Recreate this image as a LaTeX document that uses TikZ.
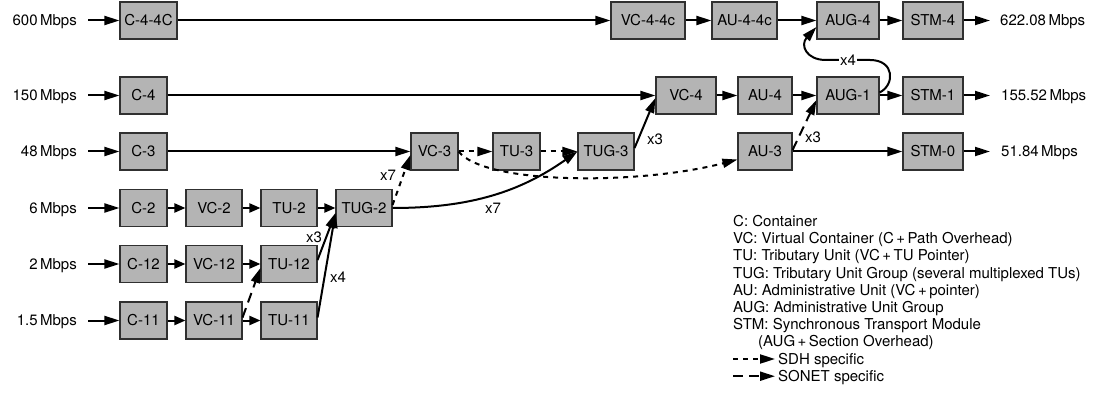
\documentclass[tikz,border=0pt]{standalone}
\usepackage{fontspec}
\setmainfont{TeX Gyre Heros}
\usetikzlibrary{arrows.meta}
\definecolor{boxgray}{HTML}{B4B4B4}
\definecolor{boxline}{HTML}{303030}
\begin{document}
\begin{tikzpicture}[x=1pt,y=1pt,
  every node/.style={font=\fontsize{15}{17.2}\selectfont, inner sep=0pt},
  unit/.style={draw=boxline, fill=boxgray, line width=1.1pt, minimum height=37pt,
               text height=10.8pt, text depth=0pt},
  rate/.style={anchor=base east},
  outrate/.style={anchor=base west},
  mult/.style={},
  legend/.style={anchor=base west},
  arr/.style={line width=2pt, -{Triangle[length=15pt,width=9pt]}},
  sarr/.style={line width=2pt, -{Triangle[length=11pt,width=9pt]}},
  sdh/.style={arr, dash pattern=on 5pt off 5pt},
  sonet/.style={arr, dash pattern=on 10pt off 6pt},
]
\useasboundingbox (0,0) rectangle (1106,-406);

% ---- multiplexing units ----
\node[unit, minimum width=57pt] (c44)  at (148.5,-20.5) {C-4-4C};
\node[unit, minimum width=74pt] (vc44) at (648,-20.5)   {VC-4-4c};
\node[unit, minimum width=65pt] (au44) at (744.5,-20.5) {AU-4-4c};
\node[unit, minimum width=62pt] (aug4) at (848,-20.5)   {AUG-4};
\node[unit, minimum width=60pt] (stm4) at (933,-20.5)   {STM-4};

\node[unit, minimum width=47pt] (c4)   at (143.5,-95.5) {C-4};
\node[unit, minimum width=60pt] (vc4)  at (686,-95.5)   {VC-4};
\node[unit, minimum width=54pt] (au4)  at (765,-95.5)   {AU-4};
\node[unit, minimum width=62pt] (aug1) at (848,-95.5)   {AUG-1};
\node[unit, minimum width=60pt] (stm1) at (933,-95.5)   {STM-1};

\node[unit, minimum width=47pt] (c3)   at (143.5,-151.5) {C-3};
\node[unit, minimum width=47pt] (vc3)  at (434.5,-151.5) {VC-3};
\node[unit, minimum width=47pt] (tu3)  at (516.5,-151.5) {TU-3};
\node[unit, minimum width=56pt] (tug3) at (606,-151.5)   {TUG-3};
\node[unit, minimum width=54pt] (au3)  at (765,-151.5)   {AU-3};
\node[unit, minimum width=60pt] (stm0) at (933,-151.5)   {STM-0};

\node[unit, minimum width=47pt] (c2)   at (143.5,-208) {C-2};
\node[unit, minimum width=56pt] (vc2)  at (214,-208)   {VC-2};
\node[unit, minimum width=56pt] (tu2)  at (289,-208)   {TU-2};
\node[unit, minimum width=56pt] (tug2) at (364,-208)   {TUG-2};

\node[unit, minimum width=47pt] (c12)  at (143.5,-264) {C-12};
\node[unit, minimum width=56pt] (vc12) at (214,-264)   {VC-12};
\node[unit, minimum width=56pt] (tu12) at (289,-264)   {TU-12};

\node[unit, minimum width=47pt] (c11)  at (143.5,-320.5) {C-11};
\node[unit, minimum width=56pt] (vc11) at (214,-320.5)   {VC-11};
\node[unit, minimum width=56pt] (tu11) at (289,-320.5)   {TU-11};

% ---- input rates ----
\node[rate] (i600) at (77,-25.9)  {600\,Mbps};
\node[rate] (i150) at (77,-100.9) {150\,Mbps};
\node[rate] (i48)  at (77,-156.9) {48\,Mbps};
\node[rate] (i6)   at (77,-213.4) {6\,Mbps};
\node[rate] (i2)   at (77,-269.4) {2\,Mbps};
\node[rate] (i15)  at (77,-325.9) {1.5\,Mbps};

\draw[arr] ([xshift=11pt]c44.west -| i600.east) -- (c44.west);
\draw[arr] ([xshift=11pt]c4.west  -| i150.east) -- (c4.west);
\draw[arr] ([xshift=11pt]c3.west  -| i48.east)  -- (c3.west);
\draw[arr] ([xshift=11pt]c2.west  -| i6.east)   -- (c2.west);
\draw[arr] ([xshift=11pt]c12.west -| i2.east)   -- (c12.west);
\draw[arr] ([xshift=11pt]c11.west -| i15.east)  -- (c11.west);

% ---- output rates ----
\node[outrate] (o622) at (1000,-25.9)  {622.08\,Mbps};
\node[outrate] (o155) at (1001,-100.9) {155.52\,Mbps};
\node[outrate] (o51)  at (1001,-156.9) {51.84\,Mbps};

\draw[arr] (stm4.east) -- ([xshift=-10pt]stm4.east -| o622.west);
\draw[arr] (stm1.east) -- ([xshift=-11pt]stm1.east -| o155.west);
\draw[arr] (stm0.east) -- ([xshift=-11pt]stm0.east -| o51.west);

% ---- straight chains ----
\draw[arr] (c44.east) -- (vc44.west);
\draw[arr] (vc44.east) -- (au44.west);
\draw[arr] (au44.east) -- (aug4.west);
\draw[arr] (aug4.east) -- (stm4.west);

\draw[arr] (c4.east) -- (vc4.west);
\draw[arr] (vc4.east) -- (au4.west);
\draw[arr] (au4.east) -- (aug1.west);
\draw[arr] (aug1.east) -- (stm1.west);

\draw[arr] (c3.east) -- (vc3.west);
\draw[sdh] (vc3.east) -- (tu3.west);
\draw[sdh] (tu3.east) -- (tug3.west);
\draw[arr] (au3.east) -- (stm0.west);

\draw[sarr] (c2.east) -- (vc2.west);
\draw[sarr] (vc2.east) -- (tu2.west);
\draw[sarr] (tu2.east) -- (tug2.west);

\draw[sarr] (c12.east) -- (vc12.west);
\draw[sarr] (vc12.east) -- (tu12.west);

\draw[sarr] (c11.east) -- (vc11.west);
\draw[sarr] (vc11.east) -- (tu11.west);

% ---- multiplexing paths ----
\draw[arr] ([yshift=4pt]tu12.east) -- ([yshift=-5pt]tug2.west);
\node[mult] (m12) at (314,-237) {x3};
\draw[arr] ([yshift=3pt]tu11.east) -- ([yshift=-5pt]tug2.west);
\node[mult] (m11) at (338,-277) {x4};
\draw[sonet] ([yshift=3pt]vc11.east) -- ([yshift=-4pt]tu12.west);

\draw[sdh] ([yshift=3pt]tug2.east) -- ([yshift=-3.5pt]vc3.west);
\node[mult] (m7a) at (388,-175.5) {x7};
\draw[arr] (tug2.east) .. controls (472,-208) and (521,-191) .. (tug3.west);
\node[mult] (m7b) at (493,-208) {x7};

\draw[sdh] (vc3.east) .. controls (485,-185) and (640,-185) .. ([yshift=-8pt]au3.west);

\draw[arr] ([yshift=3.5pt]tug3.east) -- ([yshift=-2.5pt]vc4.west);
\node[mult] (m3a) at (655,-139) {x3};

\draw[sonet] ([yshift=1.5pt]au3.east) -- ([yshift=-4.5pt]aug1.west);
\node[mult] (m3b) at (813,-137) {x3};

\draw[arr] ([yshift=3pt]aug1.east) .. controls (895,-85) and (895,-60) .. (870,-60)
  -- node[mult, fill=white, inner xsep=1pt] (m4) {x4} (826,-60)
  .. controls (806,-60) and (800,-45) .. ([yshift=-6.5pt]aug4.west);

% ---- legend ----
\node[legend] (lg1) at (733,-226.5) {C: Container};
\node[legend] (lg2) at (733,-243.7) {VC: Virtual Container (C\,+\,Path Overhead)};
\node[legend] (lg3) at (733,-260.9) {TU: Tributary Unit (VC\,+\,TU Pointer)};
\node[legend] (lg4) at (733,-278.1) {TUG: Tributary Unit Group (several multiplexed TUs)};
\node[legend] (lg5) at (733,-295.3) {AU: Administrative Unit (VC\,+\,pointer)};
\node[legend] (lg6) at (733,-312.5) {AUG: Administrative Unit Group};
\node[legend] (lg7) at (733,-329.7) {STM: Synchronous Transport Module};
\node[legend] (lg8) at (758,-346.9) {(AUG\,+\,Section Overhead)};
\node[legend] (lg9) at (778,-364.1) {SDH specific};
\node[legend] (lg10) at (778,-381.3) {SONET specific};
\coordinate (sdhA) at (733,-359);
\coordinate (sdhB) at (775,-359);
\coordinate (sonA) at (733,-376.2);
\coordinate (sonB) at (775,-376.2);
\draw[sdh] (sdhA) -- (sdhB);
\draw[sonet] (sonA) -- (sonB);
\end{tikzpicture}
\end{document}
